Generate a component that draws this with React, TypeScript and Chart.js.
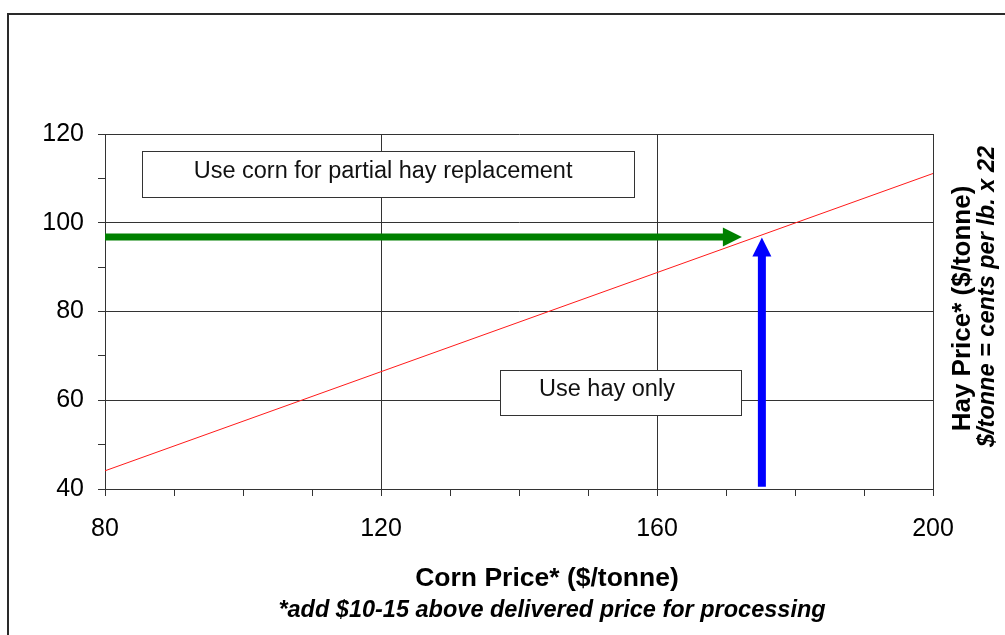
import { useEffect, useRef } from 'react';
import { Chart, registerables } from 'chart.js';

Chart.register(...registerables);

const FONT = "'Liberation Sans', Arial, Helvetica, sans-serif";

// Axis ranges / ticks
const cornTicks = [80, 120, 160, 200];
const hayTicks = [40, 60, 80, 100, 120];

// Break-even line (corn price -> hay price)
const breakEvenCorn = [80, 200];
const breakEvenHay = [44.1, 111.1];

// Green arrow: hay price level pointing to break-even
const greenArrowCorn = [80, 172.3];
const greenArrowHay = [96.8, 96.8];

// Blue arrow: corn price level pointing to break-even
const blueArrowCorn = [175.2, 175.2];
const blueArrowHay = [40.5, 96.7];

// Annotation labels
const noteTexts = ['Use corn for partial hay replacement', 'Use hay only'];
const noteBoxCorn = [[85.4, 156.7], [137.2, 172.2]];
const noteBoxHay = [[116.1, 105.9], [66.9, 56.7]];
const noteTextCorn = [120.3, 152.75];
const noteTextHay = [110.0, 61.0];

const xTitle = 'Corn Price* ($/tonne)';
const xSubtitle = '*add $10-15 above delivered price for processing';
const yTitle = 'Hay Price* ($/tonne)';
const ySubtitle = '$/tonne = cents per lb. x 22';

const toPoints = (xs: number[], ys: number[]) => xs.map((x, i) => ({ x, y: ys[i] }));

const framePlugin = {
  id: 'frame',
  beforeDraw(chart: any) {
    const { ctx, width, height } = chart;
    ctx.save();
    ctx.fillStyle = '#ffffff';
    ctx.fillRect(0, 0, width, height);
    ctx.strokeStyle = '#2a2a2a';
    ctx.lineWidth = 2;
    ctx.beginPath();
    ctx.moveTo(8, height);
    ctx.lineTo(8, 14);
    ctx.lineTo(width, 14);
    ctx.stroke();
    ctx.restore();
  },
};

const notesPlugin = {
  id: 'notes',
  beforeDatasetsDraw(chart: any) {
    const { ctx, scales } = chart;
    const xs = scales.x;
    const ys = scales.y;
    ctx.save();
    noteTexts.forEach((t, i) => {
      const x0 = Math.round(xs.getPixelForValue(noteBoxCorn[i][0])) + 0.5;
      const x1 = Math.round(xs.getPixelForValue(noteBoxCorn[i][1])) + 0.5;
      const y0 = Math.round(ys.getPixelForValue(noteBoxHay[i][0])) + 0.5;
      const y1 = Math.round(ys.getPixelForValue(noteBoxHay[i][1])) + 0.5;
      ctx.fillStyle = '#ffffff';
      ctx.fillRect(x0, y0, x1 - x0, y1 - y0);
      ctx.strokeStyle = '#333333';
      ctx.lineWidth = 1;
      ctx.strokeRect(x0, y0, x1 - x0, y1 - y0);
      ctx.fillStyle = '#111111';
      ctx.font = `23.5px ${FONT}`;
      ctx.textAlign = 'center';
      ctx.textBaseline = 'alphabetic';
      ctx.fillText(t, xs.getPixelForValue(noteTextCorn[i]), ys.getPixelForValue(noteTextHay[i]));
    });
    ctx.restore();
  },
};

const HEAD_LEN = 19;
const HEAD_HALF = 9.5;

function arrowGeom(meta: any) {
  const pts = meta.data;
  const tip = pts[pts.length - 1];
  const prev = pts[pts.length - 2];
  const dx0 = tip.x - prev.x;
  const dy0 = tip.y - prev.y;
  const len = Math.hypot(dx0, dy0) || 1;
  const dx = dx0 / len;
  const dy = dy0 / len;
  return { tx: tip.x, ty: tip.y, dx, dy, nx: -dy, ny: dx };
}

const arrowPlugin = {
  id: 'arrowHeads',
  beforeDatasetDraw(chart: any, args: any) {
    const ds: any = chart.data.datasets[args.index];
    if (!ds.arrow) return;
    const { ctx } = chart;
    const g = arrowGeom(args.meta);
    const bx = g.tx - g.dx * (HEAD_LEN - 1);
    const by = g.ty - g.dy * (HEAD_LEN - 1);
    const L = 5000;
    ctx.save();
    ctx.beginPath();
    ctx.moveTo(bx + g.nx * L, by + g.ny * L);
    ctx.lineTo(bx + g.nx * L - g.dx * L, by + g.ny * L - g.dy * L);
    ctx.lineTo(bx - g.nx * L - g.dx * L, by - g.ny * L - g.dy * L);
    ctx.lineTo(bx - g.nx * L, by - g.ny * L);
    ctx.closePath();
    ctx.clip();
  },
  afterDatasetDraw(chart: any, args: any) {
    const ds: any = chart.data.datasets[args.index];
    if (!ds.arrow) return;
    const { ctx } = chart;
    ctx.restore();
    const g = arrowGeom(args.meta);
    const bx = g.tx - g.dx * HEAD_LEN;
    const by = g.ty - g.dy * HEAD_LEN;
    ctx.save();
    ctx.fillStyle = ds.borderColor;
    ctx.beginPath();
    ctx.moveTo(g.tx, g.ty);
    ctx.lineTo(bx + g.nx * HEAD_HALF, by + g.ny * HEAD_HALF);
    ctx.lineTo(bx - g.nx * HEAD_HALF, by - g.ny * HEAD_HALF);
    ctx.closePath();
    ctx.fill();
    ctx.restore();
  },
};

const titlesPlugin = {
  id: 'titles',
  afterDraw(chart: any) {
    const { ctx, chartArea } = chart;
    const cx = (chartArea.left + chartArea.right) / 2;
    ctx.save();
    ctx.fillStyle = '#000000';
    ctx.textAlign = 'center';
    ctx.textBaseline = 'alphabetic';
    ctx.font = `bold 26.5px ${FONT}`;
    ctx.fillText(xTitle, cx + 28, chartArea.bottom + 97);
    ctx.font = `italic bold 23.5px ${FONT}`;
    ctx.fillText(xSubtitle, cx + 33, chartArea.bottom + 128);

    const cy = (chartArea.top + chartArea.bottom) / 2;
    ctx.save();
    ctx.translate(chartArea.right + 37, cy - 3);
    ctx.rotate(-Math.PI / 2);
    ctx.font = `bold 26px ${FONT}`;
    ctx.fillText(yTitle, 0, 0);
    ctx.restore();
    ctx.save();
    ctx.translate(chartArea.right + 61, cy - 15);
    ctx.rotate(-Math.PI / 2);
    ctx.font = `italic bold 23.5px ${FONT}`;
    ctx.fillText(ySubtitle, 0, 0);
    ctx.restore();
    ctx.restore();
  },
};

export default function App() {
  const ref = useRef<HTMLCanvasElement>(null);

  useEffect(() => {
    const canvas = ref.current;
    if (!canvas) return;
    const gridColor = '#333333';
    const chart = new Chart(canvas, {
      type: 'scatter',
      data: {
        datasets: [
          {
            label: 'Break-even',
            data: toPoints(breakEvenCorn, breakEvenHay),
            showLine: true,
            borderColor: '#ff1a1a',
            borderWidth: 1,
            pointRadius: 0,
          },
          {
            label: 'Hay level',
            data: toPoints(greenArrowCorn, greenArrowHay),
            showLine: true,
            borderColor: '#008000',
            borderWidth: 7,
            borderCapStyle: 'butt',
            pointRadius: 0,
            arrow: true,
          } as any,
          {
            label: 'Corn level',
            data: toPoints(blueArrowCorn, blueArrowHay),
            showLine: true,
            borderColor: '#0000ff',
            borderWidth: 8,
            borderCapStyle: 'butt',
            pointRadius: 0,
            arrow: true,
          } as any,
        ],
      },
      options: {
        responsive: false,
        animation: false,
        devicePixelRatio: 1,
        layout: { padding: { left: 0, top: 134, right: 72, bottom: 0 } },
        plugins: {
          legend: { display: false },
          tooltip: { enabled: false },
          title: { display: false },
        },
        events: [],
        scales: {
          x: {
            type: 'linear',
            position: 'bottom',
            min: cornTicks[0],
            max: cornTicks[cornTicks.length - 1],
            afterFit: (s: any) => {
              s.height = 146;
            },
            ticks: {
              stepSize: 10,
              autoSkip: false,
              maxRotation: 0,
              padding: 18,
              color: '#000000',
              font: { family: FONT, size: 25 },
              callback: (v: any) => (cornTicks.includes(Number(v)) ? String(v) : ''),
            },
            grid: {
              color: (c: any) =>
                c.tick && cornTicks.includes(c.tick.value) ? gridColor : 'rgba(0,0,0,0)',
              tickColor: gridColor,
              tickLength: 7,
              lineWidth: 1,
            },
            border: { display: true, color: gridColor, width: 1 },
          },
          y: {
            type: 'linear',
            position: 'left',
            min: hayTicks[0],
            max: hayTicks[hayTicks.length - 1],
            afterFit: (s: any) => {
              s.width = 105;
            },
            ticks: {
              stepSize: 10,
              autoSkip: false,
              padding: 14,
              color: '#000000',
              font: { family: FONT, size: 25 },
              callback: (v: any) => (hayTicks.includes(Number(v)) ? String(v) : ''),
            },
            grid: {
              color: (c: any) =>
                c.tick && hayTicks.includes(c.tick.value) ? gridColor : 'rgba(0,0,0,0)',
              tickColor: gridColor,
              tickLength: 7,
              lineWidth: 1,
            },
            border: { display: true, color: gridColor, width: 1 },
          },
        },
      } as any,
      plugins: [framePlugin, notesPlugin, arrowPlugin, titlesPlugin],
    });
    return () => chart.destroy();
  }, []);

  return (
    <div
      style={{
        position: 'absolute',
        left: 0,
        top: 0,
        width: 1005,
        height: 635,
        background: '#ffffff',
      }}
    >
      <canvas ref={ref} width={1005} height={635} style={{ display: 'block', width: 1005, height: 635 }} />
    </div>
  );
}
